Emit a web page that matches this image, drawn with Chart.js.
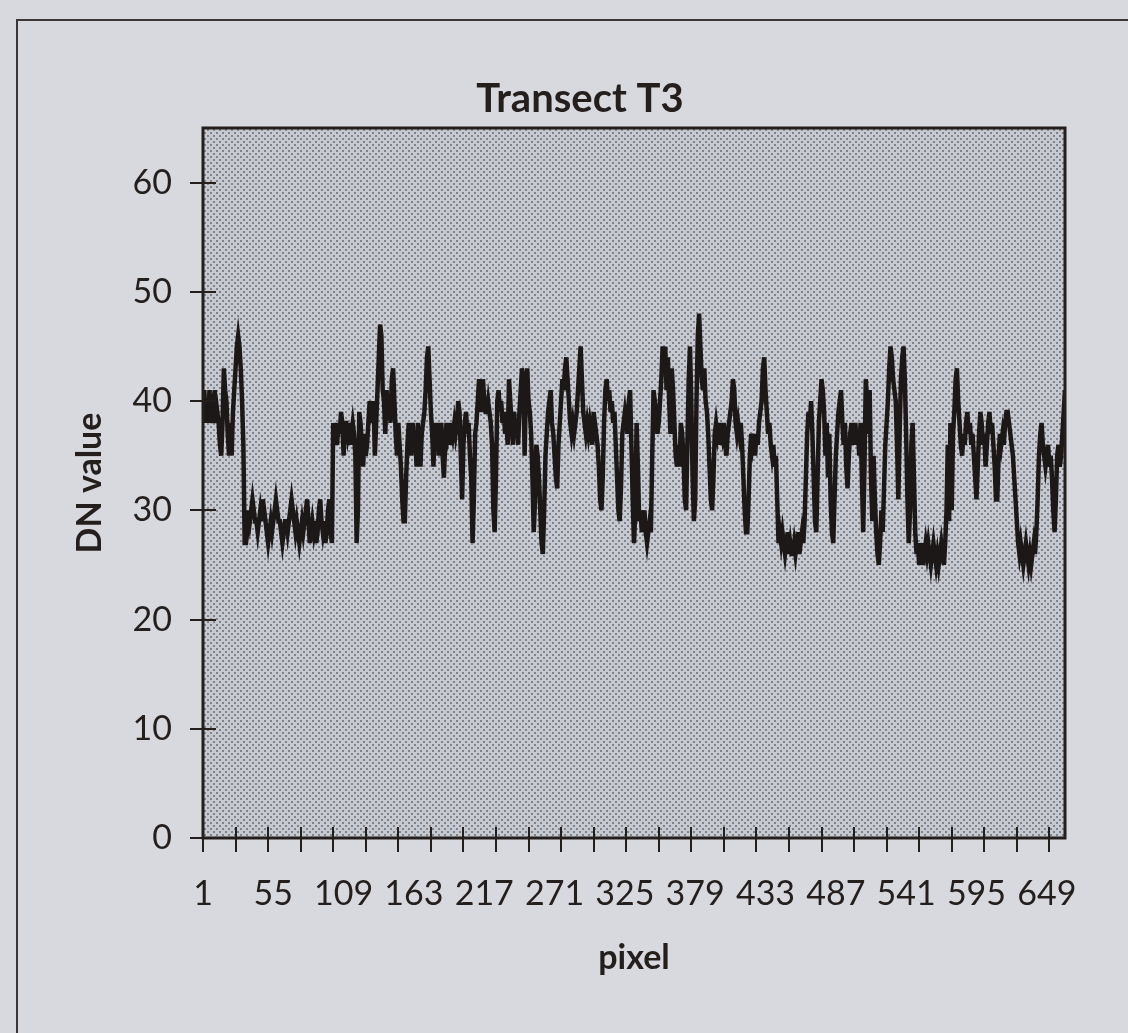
<!DOCTYPE html>
<html>
<head>
<meta charset="utf-8">
<title>Transect T3</title>
<script src="https://cdn.jsdelivr.net/npm/chart.js@4/dist/chart.umd.min.js"></script>
<style>
    html, body { margin: 0; padding: 0; background: #d8d9de; overflow: hidden; }
    #frame {
        position: absolute; left: 16px; top: 19px; right: -6px; bottom: -6px;
        border-top: 2px solid #3b3739; border-left: 2px solid #3b3739;
    }
    #myChart { position: absolute; left: 0; top: 0; }
</style>
</head>
<body>
<div id="frame"></div>
<canvas id="myChart" width="1128" height="1033"></canvas>
<script>
// DN values read along the transect, one per pixel (1..663)
const dnValues = [
    39,41,38,40,38,41,39,38,40,41,38,39,38,36,35,38,43,41,40,37,
    35,38,35,39,41,43,45,46,45,43,40,36,27,27,28,30,29,30,31,30,
    29,29,28,29,30,29,31,30,29,28,27,28,29,28,29,30,31,30,29,29,
    28,27,28,29,29,28,29,30,31,30,29,28,29,28,27,28,29,28,29,30,
    31,29,27,28,29,28,29,27,28,30,31,29,28,29,27,28,30,31,28,27,
    38,37,38,36,38,37,39,38,35,38,38,37,38,36,37,38,37,35,27,30,
    39,38,36,34,37,35,36,38,40,39,38,40,35,38,41,44,47,46,41,40,
    37,41,39,40,38,42,43,40,37,35,38,36,34,31,29,29,33,36,38,37,
    35,38,36,37,34,38,36,34,37,38,39,41,44,45,42,39,37,34,38,36,
    38,35,37,38,35,33,36,38,37,38,36,38,37,38,37,38,40,39,35,31,
    36,38,39,37,38,35,33,27,31,37,38,40,42,41,39,42,40,39,39,40,
    39,38,36,30,28,33,40,41,39,40,38,39,37,38,36,42,40,38,36,39,
    37,38,36,39,41,43,42,35,41,43,40,39,37,33,28,31,36,35,33,30,
    27,26,30,35,37,39,40,41,38,37,35,33,32,36,38,40,42,41,43,44,
    42,40,38,37,38,37,38,39,41,43,45,42,39,38,37,38,37,38,37,36,
    39,38,37,36,34,31,30,33,38,41,42,40,41,39,40,38,39,36,33,30,
    29,32,37,38,39,38,37,40,41,36,31,27,30,38,34,29,30,28,29,30,
    28,27,28,29,28,35,41,40,39,37,38,40,42,45,43,45,41,44,40,37,
    43,41,38,35,34,36,34,38,37,35,31,30,36,42,45,40,33,29,31,40,
    46,48,45,42,41,43,40,39,37,34,31,30,33,37,38,37,38,36,38,37,
    38,36,35,37,38,39,40,42,41,38,37,38,37,38,36,33,30,28,28,31,
    35,37,36,37,35,37,36,38,39,40,43,44,41,39,37,38,36,35,36,34,
    35,31,27,28,27,28,27,26,27,28,26,27,26,26,27,26,27,28,26,27,
    28,27,29,33,37,39,38,40,37,33,29,28,33,38,40,42,41,39,35,38,
    33,37,31,28,27,31,35,37,39,40,41,38,36,38,34,32,35,37,38,36,
    37,38,36,37,35,38,33,28,34,42,40,37,41,33,29,35,31,28,26,25,
    27,30,28,32,36,38,40,43,45,44,42,41,40,36,31,37,42,44,45,42,
    37,31,27,30,36,38,33,28,26,27,25,26,27,25,26,27,26,27,26,25,
    26,27,26,25,26,25,26,27,26,25,27,30,36,29,38,30,37,39,42,43,
    40,38,36,35,37,36,38,39,37,38,36,37,35,33,31,34,37,39,38,36,
    37,34,36,38,39,37,38,36,34,31,31,35,37,36,37,36,38,39,39,38,
    37,36,35,33,31,29,27,26,27,26,25,26,27,26,25,26,25,26,27,26,
    28,31,35,37,38,36,35,34,35,36,34,35,33,30,28,31,35,36,34,35,
    37,39,41
];

// pixel position along the transect (category axis)
const pixelIndex = Array.from({ length: dnValues.length }, (_, i) => i + 1);

// axis labels and tick marks
const xTickLabels = [1, 55, 109, 163, 217, 271, 325, 379, 433, 487, 541, 595, 649];
const xTickMarks = [1, 26, 51, 76, 101, 126, 151, 176, 201, 226, 251, 276, 301, 326,
    351, 376, 401, 426, 451, 476, 501, 526, 551, 576, 601, 626, 651];
const yTickValues = [0, 10, 20, 30, 40, 50, 60];

const inkColor = '#241e1d';
const tickFont = { family: 'Lato', size: 34 };
const boldFont = { family: 'Lato', size: 34, weight: 'bold' };

// halftone look of the plot background
const makeDots = () => {
    const c = document.createElement('canvas');
    c.width = 6; c.height = 6;
    const g = c.getContext('2d');
    g.fillStyle = '#c7c9d0';
    g.fillRect(0, 0, 6, 6);
    g.fillStyle = '#80838c';
    g.fillRect(0, 0, 2, 2);
    g.fillRect(3, 3, 2, 2);
    return g.createPattern(c, 'repeat');
};

const plotDecor = {
    id: 'plotDecor',
    beforeDatasetsDraw(chart) {
        const { ctx, chartArea: a } = chart;
        ctx.save();
        ctx.fillStyle = makeDots();
        ctx.fillRect(a.left, a.top, a.width, a.height);
        ctx.restore();
    },
    afterDraw(chart) {
        const { ctx, chartArea: a, scales } = chart;
        ctx.save();
        ctx.strokeStyle = inkColor;
        // tick marks crossing the axes
        ctx.lineWidth = 2;
        ctx.beginPath();
        yTickValues.forEach(v => {
            const y = Math.round(scales.y.getPixelForValue(v));
            ctx.moveTo(a.left - 13, y);
            ctx.lineTo(a.left + 13, y);
        });
        xTickMarks.forEach(v => {
            const x = Math.round(scales.x.getPixelForValue(v));
            ctx.moveTo(x, a.bottom - 11);
            ctx.lineTo(x, a.bottom + 14);
        });
        ctx.stroke();
        // box round the plot
        ctx.lineWidth = 3;
        ctx.strokeRect(a.left, a.top, a.width, a.height);
        ctx.restore();
    }
};

var chart = '';

const loadChart = () => {
    const ctx = document.getElementById('myChart').getContext('2d');
    chart = new Chart(ctx, {
        type: 'line',
        data: {
            datasets: [{
                label: 'DN value',
                data: pixelIndex.map((p, i) => ({ x: p, y: dnValues[i] })),
                borderColor: '#1d1818',
                borderWidth: 4.5,
                pointRadius: 0,
                tension: 0
            }]
        },
        options: {
            responsive: false,
            animation: false,
            layout: { padding: { left: 95, right: 63, top: 65, bottom: 55 } },
            plugins: {
                legend: { display: false },
                tooltip: { enabled: false },
                title: {
                    display: true,
                    text: 'Transect T3',
                    color: inkColor,
                    font: { family: 'Lato', size: 40, weight: 'bold' },
                    padding: { top: 10, bottom: 5 }
                }
            },
            scales: {
                x: {
                    type: 'linear',
                    min: 1,
                    max: dnValues.length,
                    afterBuildTicks: s => { s.ticks = xTickLabels.map(v => ({ value: v })); },
                    afterFit: s => { s.height = 140; },
                    ticks: {
                        color: inkColor, font: tickFont, padding: 22,
                        maxRotation: 0, autoSkip: false,
                        callback: v => String(v)
                    },
                    grid: { drawOnChartArea: false, color: 'transparent', tickLength: 14 },
                    border: { display: false },
                    title: {
                        display: true, text: 'pixel', color: inkColor, font: boldFont,
                        padding: { top: 22, bottom: 0 }
                    }
                },
                y: {
                    min: 0,
                    max: 65,
                    afterBuildTicks: s => { s.ticks = yTickValues.map(v => ({ value: v })); },
                    afterFit: s => { s.width = 108; },
                    ticks: { color: inkColor, font: tickFont, padding: 18 },
                    grid: { drawOnChartArea: false, color: 'transparent', tickLength: 13 },
                    border: { display: false },
                    title: {
                        display: true, text: 'DN value', color: inkColor, font: boldFont,
                        padding: { top: -25, bottom: 0 }
                    }
                }
            }
        },
        plugins: [plotDecor]
    });
};

loadChart();
</script>
</body>
</html>
